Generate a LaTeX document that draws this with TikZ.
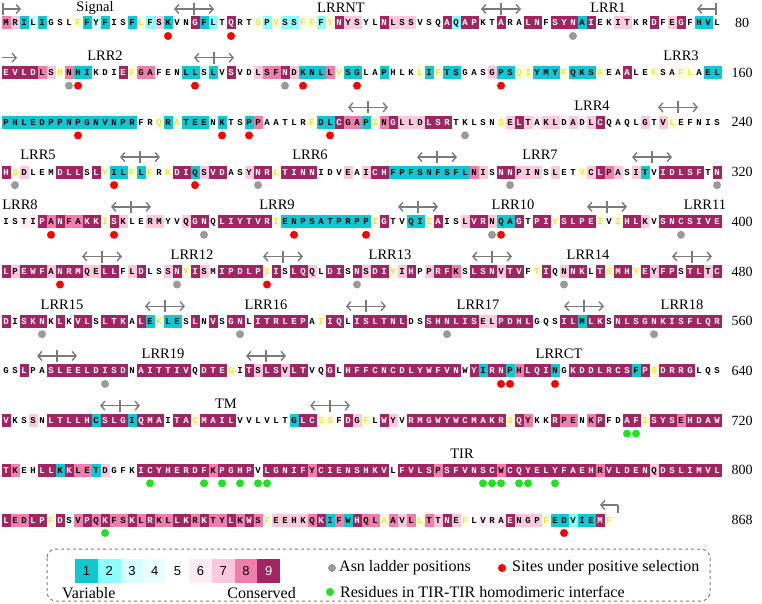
\documentclass[tikz,border=0pt]{standalone}
\usepackage{fontspec}
\setmainfont{Liberation Serif}
\newfontfamily\resfont{Liberation Mono}
\newfontfamily\legsans{Liberation Sans}
\usetikzlibrary{arrows.meta}

% conservation grades
\definecolor{c1}{HTML}{10C8D1}
\definecolor{c2}{HTML}{8CFFFF}
\definecolor{c3}{HTML}{D7FFFF}
\definecolor{c4}{HTML}{EAFFFF}
\definecolor{c5}{HTML}{FFFFFF}
\definecolor{c6}{HTML}{FCEDF4}
\definecolor{c7}{HTML}{FAC9DE}
\definecolor{c8}{HTML}{F07DAB}
\definecolor{c9}{HTML}{A02560}
\definecolor{cy}{HTML}{FFFFE6}
\definecolor{ylet}{HTML}{E8E82A}
\definecolor{dotgrey}{HTML}{9A9A9A}
\definecolor{dotred}{HTML}{FF0000}
\definecolor{dotgreen}{HTML}{22E022}
\definecolor{markgrey}{HTML}{7A7A7A}

\newcount\rescol
\newcount\resnum
\def\seqrow#1#2#3{\rescol=0 \def\rowy{#1}\seqstep#2\qstop#3\qstop}
\def\seqstep#1#2\qstop#3#4\qstop{%
  \global\advance\resnum by 1
  \node[cell,g#3] (res\the\resnum) at ({6+9*\the\rescol},\rowy) {#1};
  \advance\rescol by 1
  \ifx\relax#2\relax\else\seqstep#2\qstop#4\qstop\fi}
\newcommand\spanmark[2]{%
  \draw[span] ({#1-20},#2) -- ({#1+20},#2);
  \draw[spantick] (#1,{#2-6}) -- (#1,{#2+6});}

\tikzset{
  cell/.style={minimum width=9pt, minimum height=13pt, inner sep=0pt, text height=6pt, text depth=0pt, font=\fontsize{9}{9}\resfont\bfseries},
  g1/.style={fill=c1}, g2/.style={fill=c2}, g3/.style={fill=c3},
  g4/.style={fill=c4}, g5/.style={fill=c5}, g6/.style={fill=c6},
  g7/.style={fill=c7}, g8/.style={fill=c8}, g9/.style={fill=c9, text=white},
  gy/.style={fill=cy, text=ylet},
  lrr/.style={font=\fontsize{14.5}{14.5}\selectfont, inner sep=0pt},
  numlab/.style={font=\fontsize{14}{14}\selectfont, inner sep=0pt},
  span/.style={markgrey, line width=1.4pt, {Straight Barb[length=4pt,width=9pt]}-{Straight Barb[length=4pt,width=9pt]}},
  spanhalf/.style={markgrey, line width=1.4pt, -{Straight Barb[length=4pt,width=9pt]}},
  spantick/.style={markgrey, line width=1.4pt},
  legtext/.style={font=\fontsize{16}{16}\selectfont, inner sep=0pt, anchor=west},
  legbox/.style={minimum width=22.8pt, minimum height=24pt, inner sep=0pt, font=\fontsize{13}{13}\legsans},
}

\begin{document}
\begin{tikzpicture}[x=1pt, y=-1pt]
\useasboundingbox (0,0) rectangle (762,604);

% sequence rows
\resnum=0
\seqrow{23}{MRILIGSLFF YFISFLFSKV NGFLTQRTSP VSSFFFYNYS YLNLSSVSQA QAPKTARALN FSYNAIEKIT KRDFEGFHVL}{87131555y1 31551y2715 59125955y2 y22yy2y977 5597775559 2995595599 5999195577 5595795115}
\seqrow{72.7}{EVLDLSHNHI KDIEFGAFEN LLSLVSVDLS FNDKNLLVSG LAPHLKLIFT SGASGPSQIY MYFQKSAEAA LEFSAFLAEL}{999987y811 5559y88555 1131595578 8971118y11 551555y1y1 1555711yy1 11y111y559 55y55yy511}
\seqrow{122.4}{PHLEDPPNPG NVNPRFRQRA TEENKTSPPA ATLRFDLCGA PINGLLDLSR TKLSNSELTA KLDADLCQAQ LGTVLEFNIS}{1111111111 1111155y1y 1114155185 5555y11988 1y89777999 55555y7976 7767679555 5757y55555}
\seqrow{172.1}{HSDLEMDLLS LYILFLFRKD IQSVDASYNR LTINNIDVEA ICHFPFSNFS FLNISNNPIN SLETVCLPAS ITVIDLSFTN}{9y75559995 9y11y1y5y9 9179955799 y999955575 7991111111 1187599777 5755y79875 7159999959}
\seqrow{221.8}{ISTIPANFAK KISKLERMYV QGNQLIYTVR IENPSATPRP PIGTVQIIAI SLVRNQAGTP IYSLPEIVIH LKVSNCSIVE}{5566989889 9y97557755 7995999999 y111111111 1y95511y95 5799711959 9y9999y5y9 9759999999}
\seqrow{271.5}{LPEWFANRMQ ELLFLDLSSN YISMIPDLPI ISLQQLDISN SDIYIHPPRF KSLSNVTVFT IQNNKLTSMH YEYFPSTLTC}{9799979997 7995795579 y97599999y 9599759959 799y795799 859997995y 9579959y99 y979959979}
\seqrow{321.2}{DISKNKLKVL SLTKALEKLE SLNVSGNLIT RLEPAIIQLI SLTNLDSSHN LISELPDHLG QSILMLKSNL SGNKISFLQR}{9599959599 5999591y11 5959599599 99995y9959 9999955999 9997799995 5599199599 9999999999}
\seqrow{370.9}{GSLPASLEEL DISDNAITTI VQDTEGITSL SVLTVQGLHF FCNCDLYWFV NWYIRNPHLQ INGKDDLRCS FPGDRRGLQS}{5595599999 9999599999 95999y5979 9799569599 9999999999 9591991899 9159999999 19y9999555}
\seqrow{420.6}{VKSSNLTLLH CSLGIQMAIT ACMAILVVLV LTGLCSSFDG FLWYVRMGWY WCMAKRSQYK KRPENKPFDA FISYSEHDAW}{9557599999 1999199959 9y99995555 55199yy597 y597599999 999999y985 5988589559 9y99989999}
\seqrow{470.3}{TKEHLLKKLE TDGFKICYHE RDFKPGHPVL GNIFYCIENS HKVLFVLSPS FVNSCWCQYE LYFAEHRVLD ENQDSLIMVL}{9855991988 1755599999 9998999959 9999899999 9995999989 9999989999 9999998999 9979999999}
\seqrow{520}{LEDLPFDSVP QKFSKLRKLL KRKTYLKWSF EEHKQKIFWH QLAAVLLTTN EFLVRAENGP FEDVIEMF}{98899y9389 8988989889 989889898y 7777891819 88y878y879 7y56669777 y112119y}

% residue counts
\foreach \k/\n in {1/80,2/160,3/240,4/320,5/400,6/480,7/560,8/640,9/720,10/800}
  \node[numlab] (num\n) at (742,{23+49.7*(\k-1)}) {\n};
\node[numlab] (num868) at (742,520) {868};

% site markers
\foreach \r in {64,88,112,212,242,269,297,320,343,375,396,420,440,463,485,507,530,553,572}
  \fill[dotgrey] (res\r.center) ++(0,13) circle (4);
\foreach \r in {19,26,89,102,114,120,136,169,185,188,197,253,262,326,333,353,361,376,407,430,616,617,622,863}
  \fill[dotred] (res\r.center) ++(0,13) circle (4);
\foreach \r in {710,711,737,743,745,747,749,750,774,775,776,778,779,782,812}
  \fill[dotgreen] (res\r.center) ++(0,13) circle (4);

% domain labels
\node[lrr] (lbl-signal) at (95,8) {Signal};
\node[lrr] (lbl-lrrnt) at (341,8) {LRRNT};
\node[lrr] (lbl-lrr1) at (608,8) {LRR1};
\node[lrr] (lbl-lrr2) at (105,56) {LRR2};
\node[lrr] (lbl-lrr3) at (681,56) {LRR3};
\node[lrr] (lbl-lrr4) at (592,105.5) {LRR4};
\node[lrr] (lbl-lrr5) at (38,155.2) {LRR5};
\node[lrr] (lbl-lrr6) at (310,155.2) {LRR6};
\node[lrr] (lbl-lrr7) at (540,155.2) {LRR7};
\node[lrr] (lbl-lrr8) at (20,204.9) {LRR8};
\node[lrr] (lbl-lrr9) at (277,204.9) {LRR9};
\node[lrr] (lbl-lrr10) at (513,204.9) {LRR10};
\node[lrr] (lbl-lrr11) at (705,204.9) {LRR11};
\node[lrr] (lbl-lrr12) at (192,254.6) {LRR12};
\node[lrr] (lbl-lrr13) at (390,254.6) {LRR13};
\node[lrr] (lbl-lrr14) at (588,254.6) {LRR14};
\node[lrr] (lbl-lrr15) at (62,304.3) {LRR15};
\node[lrr] (lbl-lrr16) at (266,304.3) {LRR16};
\node[lrr] (lbl-lrr17) at (478,304.3) {LRR17};
\node[lrr] (lbl-lrr18) at (682,304.3) {LRR18};
\node[lrr] (lbl-lrr19) at (163,354) {LRR19};
\node[lrr] (lbl-lrrct) at (559,354) {LRRCT};
\node[lrr] (lbl-tm) at (226,403.7) {TM};
\node[lrr] (lbl-tir) at (462,453.4) {TIR};

% boundary marks
\draw[spantick] (3,3) -- (3,15);
\draw[spanhalf] (3,9) -- (21,9);
\spanmark{194}{9}
\spanmark{501}{9}
\draw[spanhalf] (716,9) -- (697,9);
\draw[spantick] (716,3) -- (716,15);
\draw[spanhalf] (2,57.7) -- (17,57.7);
\spanmark{214}{57.7}
\spanmark{368}{107.4}
\spanmark{678}{107.4}
\spanmark{140}{157.1}
\spanmark{437}{157.1}
\spanmark{652}{157.1}
\spanmark{131}{206.8}
\spanmark{418}{206.8}
\spanmark{607}{206.8}
\spanmark{102}{256.5}
\spanmark{283}{256.5}
\spanmark{492}{256.5}
\spanmark{692}{256.5}
\spanmark{165}{306.2}
\spanmark{366}{306.2}
\spanmark{584}{306.2}
\spanmark{57}{355.9}
\spanmark{266}{355.9}
\spanmark{120}{405.6}
\spanmark{330}{405.6}
\draw[spanhalf] (618,505) -- (600,505);
\draw[spantick] (618,505) -- (618,513);

% legend
\draw[markgrey, dashed, line width=1pt, rounded corners=9pt] (47,549) rectangle (710,601);
\foreach \g [count=\i from 0] in {1,...,9}
  \node[legbox, g\g] (key\g) at ({86.4+22.8*\i},571) {\g};
\node[legtext] (lbl-var) at (62,593) {Variable};
\node[legtext, anchor=east] (lbl-cons) at (296,593) {Conserved};
\fill[dotgrey] (332,568) circle (4);
\node[legtext] (lbl-asn) at (339,568) {Asn ladder positions};
\fill[dotred] (502,568) circle (4);
\node[legtext] (lbl-pos) at (512,568) {Sites under positive selection};
\fill[dotgreen] (330,592) circle (4);
\node[legtext] (lbl-tir2) at (340,592) {Residues in TIR-TIR homodimeric interface};
\end{tikzpicture}
\end{document}
